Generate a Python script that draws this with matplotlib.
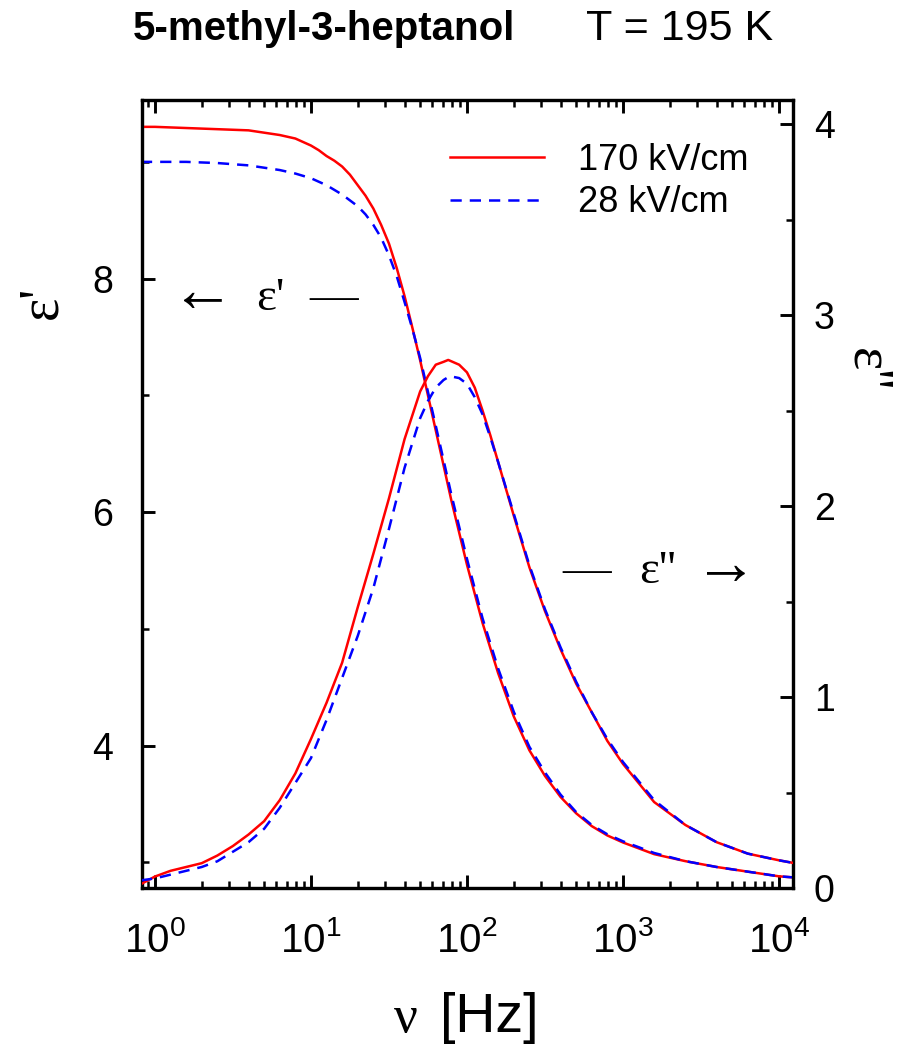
import matplotlib
matplotlib.use("Agg")
import matplotlib.pyplot as plt
import numpy as np
from matplotlib.ticker import LogLocator, NullFormatter, MultipleLocator, FixedLocator

SANS = "Liberation Sans"
SERIF = ["Liberation Serif", "DejaVu Serif", "DejaVu Sans"]

# ---- data (log10 of frequency in Hz) ----
LOGF_EPS1_170 = [-0.09, 0.0, 0.2, 0.4, 0.6, 0.8, 0.9, 1.0, 1.05, 1.1, 1.15, 1.2, 1.25, 1.3,
                 1.35, 1.4, 1.45, 1.5, 1.55, 1.6, 1.65, 1.7, 1.8, 1.9, 2.0, 2.1, 2.2, 2.3,
                 2.4, 2.5, 2.6, 2.7, 2.8, 2.9, 3.0, 3.2, 3.4, 3.6, 3.8, 4.0, 4.1]
EPS1_170 = [9.30, 9.30, 9.29, 9.28, 9.27, 9.23, 9.20, 9.14, 9.10, 9.05, 9.01, 8.96, 8.89, 8.80,
            8.71, 8.60, 8.46, 8.30, 8.09, 7.85, 7.58, 7.30, 6.70, 6.10, 5.55, 5.05, 4.62, 4.25,
            3.96, 3.74, 3.56, 3.42, 3.31, 3.23, 3.17, 3.07, 3.01, 2.96, 2.92, 2.88, 2.87]

LOGF_EPS1_28 = [-0.09, 0.0, 0.2, 0.4, 0.6, 0.8, 0.9, 1.0, 1.05, 1.1, 1.15, 1.2, 1.25, 1.3,
                1.35, 1.4, 1.45, 1.5, 1.55, 1.6, 1.65, 1.7, 1.8, 1.9, 2.0, 2.1, 2.2, 2.3,
                2.4, 2.5, 2.6, 2.7, 2.8, 2.9, 3.0, 3.2, 3.4, 3.6, 3.8, 4.0, 4.1]
EPS1_28 = [9.00, 9.00, 9.00, 8.99, 8.97, 8.93, 8.90, 8.86, 8.83, 8.80, 8.76, 8.72, 8.67, 8.62,
           8.55, 8.46, 8.35, 8.20, 8.02, 7.80, 7.57, 7.32, 6.74, 6.15, 5.60, 5.09, 4.66, 4.29,
           3.99, 3.77, 3.58, 3.43, 3.32, 3.24, 3.18, 3.08, 3.01, 2.96, 2.92, 2.88, 2.87]

LOGF_EPS2_170 = [-0.09, 0.0, 0.1, 0.2, 0.3, 0.4, 0.5, 0.6, 0.7, 0.8, 0.9, 1.0, 1.1, 1.2, 1.3,
                 1.4, 1.5, 1.6, 1.7, 1.75, 1.8, 1.85, 1.88, 1.95, 2.0, 2.05, 2.1, 2.15, 2.2,
                 2.3, 2.4, 2.5, 2.6, 2.7, 2.8, 2.9, 3.0, 3.2, 3.4, 3.6, 3.8, 4.0, 4.1]
EPS2_170 = [0.02, 0.06, 0.09, 0.11, 0.13, 0.17, 0.22, 0.28, 0.35, 0.46, 0.60, 0.78, 0.97, 1.18,
            1.47, 1.75, 2.04, 2.35, 2.60, 2.68, 2.74, 2.755, 2.765, 2.74, 2.70, 2.62, 2.50,
            2.37, 2.23, 1.95, 1.68, 1.45, 1.25, 1.07, 0.92, 0.77, 0.65, 0.45, 0.33, 0.24,
            0.18, 0.145, 0.13]

LOGF_EPS2_28 = [-0.09, 0.0, 0.1, 0.2, 0.3, 0.4, 0.5, 0.6, 0.7, 0.8, 0.9, 1.0, 1.1, 1.2, 1.3,
                1.4, 1.5, 1.6, 1.7, 1.75, 1.8, 1.85, 1.89, 1.95, 2.0, 2.05, 2.1, 2.15, 2.2,
                2.3, 2.4, 2.5, 2.6, 2.7, 2.8, 2.9, 3.0, 3.2, 3.4, 3.6, 3.8, 4.0, 4.1]
EPS2_28 = [0.04, 0.05, 0.07, 0.09, 0.11, 0.14, 0.19, 0.24, 0.31, 0.42, 0.55, 0.68, 0.88, 1.10,
           1.32, 1.57, 1.88, 2.20, 2.46, 2.55, 2.62, 2.66, 2.68, 2.67, 2.64, 2.57, 2.48,
           2.36, 2.23, 1.96, 1.69, 1.46, 1.26, 1.08, 0.92, 0.78, 0.66, 0.46, 0.33, 0.24,
           0.18, 0.145, 0.13]

SERIES_LABELS = ["170 kV/cm", "28 kV/cm"]
X_TICKS = [1, 10, 100, 1000, 10000]
X_TICKLABELS = [r"$10^{0}$", r"$10^{1}$", r"$10^{2}$", r"$10^{3}$", r"$10^{4}$"]

plt.rcParams["mathtext.fontset"] = "custom"
plt.rcParams["mathtext.rm"] = SANS
plt.rcParams["mathtext.it"] = SANS
plt.rcParams["mathtext.bf"] = SANS
plt.rcParams["font.family"] = [SANS, "DejaVu Sans"]

W, H = 913, 1045
fig = plt.figure(figsize=(W / 100, H / 100), dpi=100)
ax = fig.add_axes([142 / W, 1 - 888 / H, (793 - 142) / W, (888 - 100) / H])
ax2 = ax.twinx()

red, blue = "#ff0000", "#0000ff"
dash = (4.5, 3.2)
l1, = ax.plot(10 ** np.asarray(LOGF_EPS1_170), EPS1_170, color=red, lw=1.8, zorder=3)
l2, = ax.plot(10 ** np.asarray(LOGF_EPS1_28), EPS1_28, color=blue, lw=1.8, dashes=dash, zorder=4)
ax2.plot(10 ** np.asarray(LOGF_EPS2_170), EPS2_170, color=red, lw=1.8, zorder=3)
ax2.plot(10 ** np.asarray(LOGF_EPS2_28), EPS2_28, color=blue, lw=1.8, dashes=dash, zorder=4)

ax.set_xscale("log")
ax.set_xlim(10 ** -0.083, 10 ** 4.09)
ax.set_ylim(2.78, 9.53)
ax2.set_ylim(0, 4.126)

ax.xaxis.set_major_locator(FixedLocator(X_TICKS))
ax.set_xticklabels(X_TICKLABELS)
ax.xaxis.set_minor_locator(LogLocator(base=10, subs=np.arange(2, 10), numticks=20))
ax.xaxis.set_minor_formatter(NullFormatter())
ax.yaxis.set_major_locator(MultipleLocator(2))
ax.yaxis.set_minor_locator(MultipleLocator(1))
ax2.yaxis.set_major_locator(MultipleLocator(1))
ax2.yaxis.set_minor_locator(MultipleLocator(0.5))

for a in (ax, ax2):
    for s in a.spines.values():
        s.set_linewidth(2.3)
ax.tick_params(axis="x", which="both", direction="in", top=True, bottom=True)
ax.tick_params(axis="x", which="major", length=9.5, width=2.1, pad=24, labelsize=29)
ax.tick_params(axis="x", which="minor", length=5, width=1.8)
ax.tick_params(axis="y", which="both", direction="in", left=True, right=False)
ax.tick_params(axis="y", which="major", length=9.5, width=2.1, pad=21, labelsize=27)
ax.tick_params(axis="y", which="minor", length=5, width=1.8)
ax2.tick_params(axis="y", which="both", direction="in", right=True, left=False)
ax2.tick_params(axis="y", which="major", length=9.5, width=2.1, pad=15, labelsize=27)
ax2.tick_params(axis="y", which="minor", length=5, width=1.8)

# axis labels
fig.text(418 / W, 1 - 1032 / H, "\u03bd", family=SERIF, fontsize=38, ha="right", va="baseline")
fig.text(440 / W, 1 - 1032 / H, "[Hz]", family=SANS, fontsize=40, ha="left", va="baseline")
fig.text(42 / W, 1 - 302 / H, "\u03b5'", family=SERIF, fontsize=40, rotation=90,
         ha="center", va="center")
fig.text(866 / W, 1 - 370 / H, "\u03b5''", family=SERIF, fontsize=40, rotation=-90,
         ha="center", va="center")

# title texts
fig.text(133 / W, 1 - 40 / H, "5-methyl-3-heptanol", family=SANS, fontweight="bold",
         fontsize=29, ha="left", va="baseline")
fig.text(773 / W, 1 - 40 / H, "T = 195 K", family=SANS, fontsize=31, ha="right", va="baseline")


# annotations
def note(x, y, s, size, fam=SERIF):
    fig.text(x / W, 1 - y / H, s, family=fam, fontsize=size, ha="center", va="center_baseline")


note(203, 289, "\u2190", 46)
note(270, 294, "\u03b5'", 34)
note(334, 293, "\u2014", 35)
note(587, 566, "\u2014", 35)
note(658, 567, "\u03b5''", 34)
note(726, 562, "\u2192", 46)

leg = ax.legend([l1, l2], SERIES_LABELS, loc="upper left", bbox_to_anchor=(450 / W, 1 - 143 / H),
                bbox_transform=fig.transFigure, frameon=False, fontsize=26, handlelength=2.6,
                handletextpad=0.95, labelspacing=0.2, borderpad=0, borderaxespad=0)

fig.savefig("out.png", dpi=100)
